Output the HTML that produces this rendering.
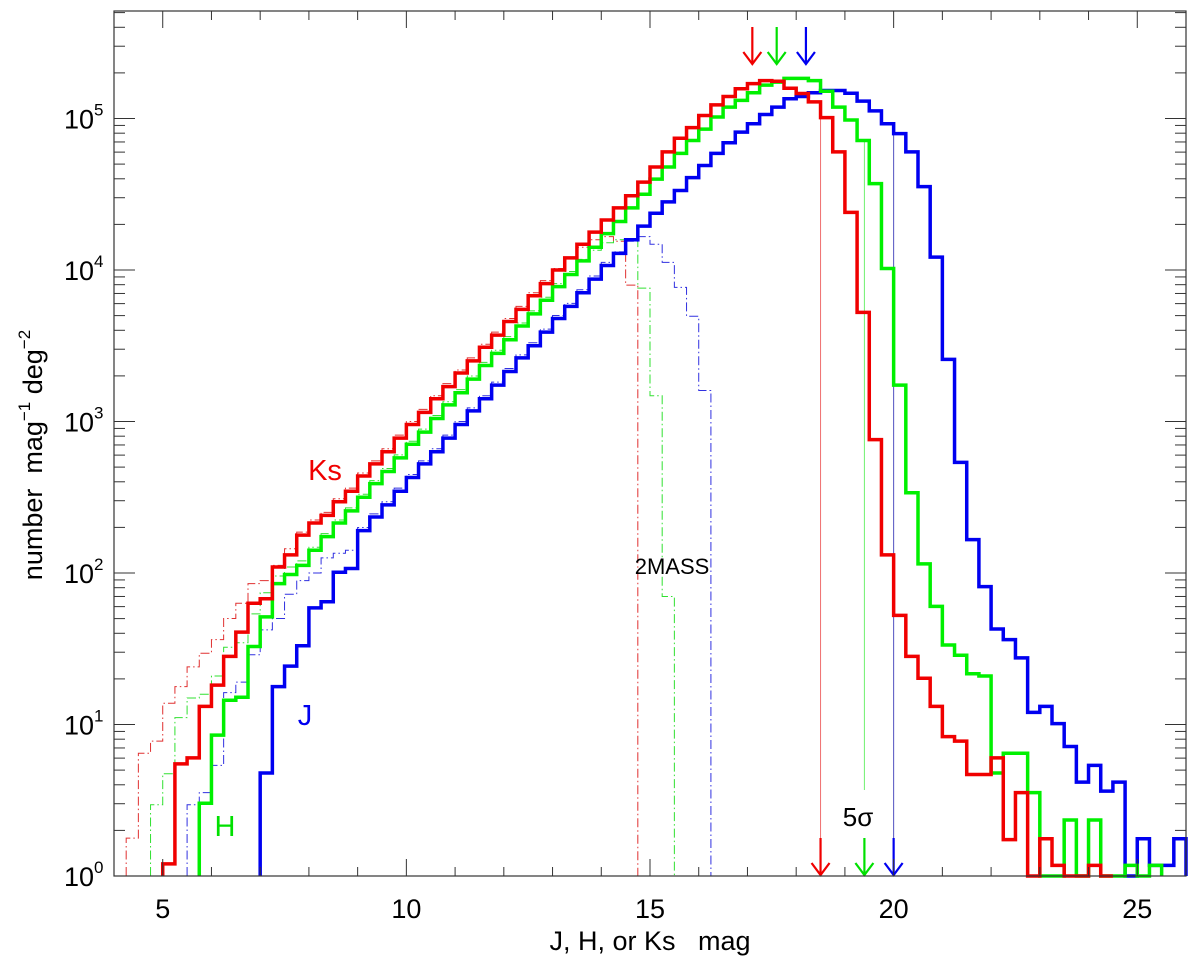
<!DOCTYPE html>
<html><head><meta charset="utf-8"><style>
html,body{margin:0;padding:0;background:#fff;}
svg{display:block;font-family:"Liberation Sans",sans-serif;}
</style></head><body>
<svg id="chart" width="1200" height="959" viewBox="0 0 1200 959" xmlns="http://www.w3.org/2000/svg">
<g id="plot"></g>
</svg>
<script>
// ---- data (log10 of number mag^-1 deg^-2 per 0.25 mag bin) ----
const binWidth = 0.25;
const ksStart = 5.0;
const ksLog = [0.08,0.74,0.78,1.12,1.26,1.45,1.61,1.80,1.83,2.04,
 2.12,2.25,2.33,2.38,2.47,2.54,2.64,2.72,2.80,2.89,2.98,3.06,3.15,3.23,3.32,3.40,3.49,3.57,3.66,3.74,3.83,3.91,4.00,4.08,4.17,4.25,4.33,4.41,4.49,
 4.58,4.68,4.78,4.87,4.94,5.02,5.09,5.145,5.196,5.23,5.25,5.246,5.20,5.165,5.11,5.006,4.78,4.38,3.72,2.88,2.12,
 1.72,1.45,1.305,1.12,0.92,0.89,0.67,0.67,0.78,0.24,0.55,-0.1,0.246,0.07,-0.1,-0.1,0.07,-0.1];
const hStart = 5.75;
const hLog = [0.48,0.93,1.16,1.18,1.515,1.71,1.93,1.99,2.05,
 2.15,2.24,2.33,2.41,2.50,2.59,2.67,2.76,2.85,2.93,3.02,3.11,3.19,3.28,3.37,3.45,3.54,3.63,3.71,3.80,3.89,3.97,4.06,4.15,4.24,4.32,4.41,
 4.50,4.60,4.68,4.77,4.855,4.93,5.01,5.075,5.12,5.17,5.22,5.24,5.265,5.265,5.25,5.18,5.075,4.99,4.855,4.57,4.01,
 3.24,2.53,2.06,1.78,1.525,1.457,1.335,1.32,0.68,0.81,0.81,0.55,-0.1,-0.1,0.37,-0.1,0.37,-0.1,-0.1,0.07,-0.1,0.07];
const jStart = 7.0;
const jLog = [0.68,1.25,1.385,1.52,1.77,1.81,2.005,2.03,
 2.28,2.37,2.45,2.54,2.63,2.72,2.80,2.89,2.98,3.07,3.15,3.24,3.33,3.42,3.50,3.59,3.68,3.76,3.85,3.94,4.03,4.11,4.20,
 4.29,4.375,4.45,4.525,4.61,4.69,4.77,4.84,4.91,4.965,5.026,5.075,5.13,5.145,5.17,5.185,5.185,5.167,5.115,5.05,4.965,
 4.90,4.78,4.55,4.085,3.41,2.73,2.22,1.91,1.63,1.56,1.44,1.08,1.12,1.006,0.855,0.62,0.73,0.56,0.62,-0.1,0.246,0.07,0.07,0.246];
const ks2mStart = 4.25;
const ks2mLog = [0.25,0.81,0.89,1.14,1.25,1.38,1.47,1.56,1.70,1.80,1.93,1.95,2.05,2.16,2.27,2.35,2.40,2.49,2.56,
 2.66,2.74,2.82,2.91,3.00,3.08,3.17,3.25,3.34,3.42,3.51,3.59,3.68,3.76,3.85,3.93,4.01,4.08,4.15,4.20,4.22,4.19,3.90];
const h2mStart = 4.75;
const h2mLog = [0.47,0.675,1.045,1.175,1.20,1.32,1.51,1.54,1.73,1.87,1.98,2.04,2.08,2.17,2.26,2.35,2.43,
 2.52,2.61,2.69,2.78,2.87,2.95,3.04,3.13,3.21,3.30,3.39,3.47,3.56,3.65,3.73,3.82,3.91,3.99,4.07,4.13,4.18,4.20,4.195,3.88,3.17,1.845];
const j2mStart = 5.5;
const j2mLog = [0.47,0.55,0.73,1.21,1.28,1.46,1.625,1.70,1.86,1.95,2.0,2.10,2.13,2.15,
 2.30,2.39,2.47,2.56,2.65,2.74,2.82,2.91,3.00,3.09,3.17,3.26,3.35,3.44,3.52,3.61,3.70,3.78,3.87,3.96,4.05,4.12,4.19,4.22,4.17,4.05,3.885,3.695,3.205];
const peakArrowMags = [17.1, 17.6, 18.2];
const limitMags = [18.5, 19.4, 20.0];
const xTickLabels = [5,10,15,20,25];
const yTickExps = [0,1,2,3,4,5];

// ---- axes ----
const L=114, R=1186, T=11, B=876;
const xMin=4, xMax=26, yMinLog=0, yMaxLog=(B-T)/151.5;
const X = m => L + (m-xMin)/(xMax-xMin)*(R-L);
const Y = lg => B - (Math.max(lg,yMinLog)-yMinLog)*151.5;
const NS="http://www.w3.org/2000/svg";
const plot=document.getElementById('plot');
function mk(tag,attrs,parent){const e=document.createElementNS(NS,tag);for(const k in attrs)e.setAttribute(k,attrs[k]);(parent||plot).appendChild(e);return e;}

// histograms
function hist(start,vals,color,width,dash,name){
  let d="M"+X(start)+","+B;
  vals.forEach((v,i)=>{const x0=X(start+i*binWidth),x1=X(start+(i+1)*binWidth),y=Y(v);d+=" L"+x0+","+y+" L"+x1+","+y;});
  d+=" L"+X(start+vals.length*binWidth)+","+B;
  const p=mk('path',{d:d,fill:'none',stroke:color,'stroke-width':width,'stroke-linejoin':'miter'});
  if(dash)p.setAttribute('stroke-dasharray',dash);
  
  
}
hist(ks2mStart,ks2mLog,'#e03030',1,'9,3,1.5,3','ks-2mass-histogram');
hist(h2mStart,h2mLog,'#30e030',1,'9,3,1.5,3','h-2mass-histogram');
hist(j2mStart,j2mLog,'#3030e0',1,'9,3,1.5,3','j-2mass-histogram');

// limit lines (thin vertical)
const limCols=['#f07070','#70f070','#5050c0'];
const limHist=[[ksStart,ksLog],[hStart,hLog],[jStart,jLog]];
limitMags.forEach((m,i)=>{
  const h=limHist[i];const idx=Math.floor((m-h[0])/binWidth+1e-6);
  const top=Y(h[1][Math.max(0,Math.min(idx,h[1].length-1))]);
  const ln=mk('line',{x1:X(m),x2:X(m),y1:top,y2:(i==1?790:B),stroke:limCols[i],'stroke-width':1});
  
  
});

hist(jStart,jLog,'#0000f0',3.5,null,'j-histogram');
hist(hStart,hLog,'#00f000',3.5,null,'h-histogram');
hist(ksStart,ksLog,'#f00000',3.5,null,'ks-histogram');

// arrows
const arrCols=['#f00000','#00e000','#0000f0'];
function arrow(x,y1,y2,c,name){
  const g=mk('g',{stroke:c,'stroke-width':2.2,fill:'none'});
  
  
  mk('line',{x1:x,x2:x,y1:y1,y2:y2},g);
  mk('path',{d:`M${x-9},${y2-12} L${x},${y2} L${x+9},${y2-12}`},g);
}
peakArrowMags.forEach((m,i)=>arrow(X(m),27,64,arrCols[i],'peak-arrow-'+['ks','h','j'][i]));
limitMags.forEach((m,i)=>arrow(X(m),838,875,arrCols[i],'limit-arrow-'+['ks','h','j'][i]));

// frame
const fr=mk('rect',{x:L,y:T,width:R-L,height:B-T,fill:'none',stroke:'#333','stroke-width':1.2});



// x ticks
for(let m=xMin;m<=xMax;m++){
  const major=(m%5===0);const len=major?17:9;
  mk('line',{x1:X(m),x2:X(m),y1:B,y2:B-len,stroke:'#333','stroke-width':1});
  mk('line',{x1:X(m),x2:X(m),y1:T,y2:T+len,stroke:'#333','stroke-width':1});
}
xTickLabels.forEach(v=>{
  const t=mk('text',{x:X(v),y:918,'text-anchor':'middle','font-size':27,fill:'#000'});
  t.textContent=v;
  
  
});
// y ticks
for(let e=0;e<=5;e++){
  for(let k=1;k<=9;k++){
    const lg=e+Math.log10(k);if(lg>yMaxLog)break;
    const y=Y(lg);const len=k===1?21:11;
    mk('line',{x1:L,x2:L+len,y1:y,y2:y,stroke:'#333','stroke-width':1});
    mk('line',{x1:R,x2:R-len,y1:y,y2:y,stroke:'#333','stroke-width':1});
  }
}
yTickExps.forEach(e=>{
  const t=mk('text',{x:64,y:Y(e)+10,'font-size':27,fill:'#000'});
  
  
  t.textContent='10';
  const s=mk('tspan',{'font-size':17,dy:-13},t);s.textContent=e;
});

// axis titles & annotations
function label(txt,x,y,size,color,name){
  const t=mk('text',{x:x,y:y,'font-size':size,fill:color,'text-anchor':'middle'});
  t.textContent=txt;
  
  
  return t;
}
label('J, H, or Ks\u00a0\u00a0\u00a0mag',650,950,27,'#000','x-axis-title');
const yt=mk('text',{x:0,y:0,'font-size':27,fill:'#000','text-anchor':'middle',transform:'translate(42,455) rotate(-90)'});


yt.innerHTML='number\u00a0\u00a0mag<tspan font-size="17" dy="-12">−1</tspan><tspan dy="12">\u00a0deg</tspan><tspan font-size="17" dy="-12">−2</tspan>';
label('Ks',325,480,29,'#f00000','ks-label');
label('J',305,725,29,'#0000f0','j-label');
label('H',225,836,29,'#00e000','h-label');
label('2MASS',672,574,22,'#000','2mass-label');
label('5σ',858,826,26,'#000','5-sigma-label');
</script>
</body></html>
